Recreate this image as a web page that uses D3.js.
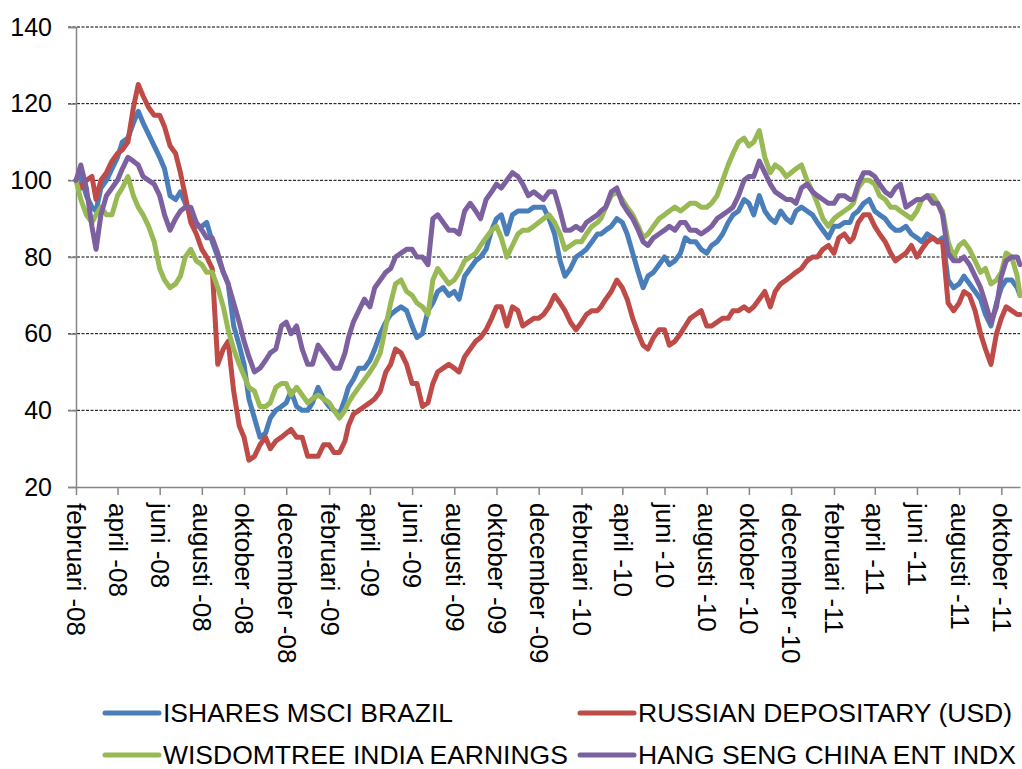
<!DOCTYPE html>
<html>
<head>
<meta charset="utf-8">
<script src="https://cdn.jsdelivr.net/npm/d3@7"></script>
<style>
  body { margin: 0; background: #fff; }
  text { font-family: "Liberation Sans", Arial, sans-serif; fill: #000; }
</style>
</head>
<body>
<div id="chart"></div>
<script>
// sample dates: 1st, 8th, 16th and 24th of each month, Feb 2008 .. Oct 2011, plus last day shown
var startDate = new Date(2008, 1, 1);
var endDate = new Date(2011, 9, 28);
var dates = [];
d3.timeMonth.range(startDate, new Date(2011, 10, 1)).forEach(function(m) {
    [1, 8, 16, 24].forEach(function(day) {
        dates.push(new Date(m.getFullYear(), m.getMonth(), day));
    });
});
dates.push(endDate);

var brazil = [
    100,101, 96,93, 92,98, 100,103, 106,110, 111,115, 118,115, 112,109, 106,103, 96,95,
    97,94, 91,88, 88,89, 84,80, 76,73, 62,57, 52,43, 38,33, 34,38, 40,41,
    42,45, 41,40, 40,42, 46,43, 41,40, 39,43, 46,48, 51,51, 53,56, 60,63,
    65,66, 67,66, 62,59, 60,66, 68,71, 72,70, 71,69, 75,77, 79,80, 82,87,
    90,91, 86,91, 92,92, 92,93, 93,93, 90,86, 79,75, 77,80, 81,82, 84,86,
    86,87, 88,90, 89,86, 81,76, 72,75, 76,78, 80,78, 79,81, 85,84, 84,82,
    81,83, 84,86, 89,91, 92,95, 94,91, 96,92, 90,89, 92,90, 89,92, 93,92,
    91,89, 87,85, 88,88, 89,89, 91,92, 94,95, 92,91, 90,88, 87,87, 88,86,
    85,84, 86,85, 84,85, 74,72, 73,75, 73,71, 69,65, 62,68, 72,74, 74,72,
    70];

var russia = [
    100,98, 100,101, 95,100, 102,105, 107,108, 110,119, 125,122, 119,117, 117,114, 109,107,
    102,96, 89,86, 82,80, 77,52, 56,58, 45,36, 33,27, 28,31, 33,30, 32,33,
    34,35, 33,33, 28,28, 28,31, 31,29, 29,32, 36,39, 40,41, 42,43, 45,50,
    52,56, 55,52, 47,47, 41,42, 47,50, 51,52, 51,50, 54,56, 58,59, 61,64,
    67,67, 62,67, 66,62, 63,64, 64,65, 67,70, 68,66, 63,61, 63,65, 66,66,
    67,69, 71,74, 72,69, 64,60, 57,56, 59,61, 61,57, 58,60, 62,64, 65,66,
    62,62, 63,64, 64,66, 66,67, 66,67, 69,71, 67,71, 73,74, 75,76, 77,79,
    80,80, 82,83, 81,85, 86,84, 85,89, 91,91, 88,86, 84,81, 79,80, 81,83,
    80,82, 84,85, 84,84, 68,66, 68,71, 70,66, 60,56, 52,60, 64,67, 66,65,
    65];

var india = [
    100,95, 91,89, 91,93, 91,91, 96,98, 101,96, 93,91, 88,84, 77,74, 72,73,
    75,80, 82,79, 78,76, 76,72, 67,61, 56,52, 49,46, 45,41, 41,42, 46,47,
    47,44, 46,44, 42,43, 44,43, 42,40, 38,40, 42,44, 46,48, 50,52, 55,62,
    68,73, 74,71, 70,68, 67,65, 74,77, 75,73, 74,76, 79,80, 81,83, 85,87,
    88,85, 80,83, 86,87, 87,88, 89,90, 91,89, 86,82, 83,84, 84,86, 88,89,
    90,93, 96,97, 95,93, 91,88, 85,86, 88,90, 91,92, 93,92, 93,94, 94,93,
    93,94, 96,100, 104,107, 110,111, 109,110, 113,106, 102,104, 103,101, 102,103, 104,100,
    97,94, 90,88, 90,91, 92,93, 94,98, 100,100, 99,96, 95,93, 93,92, 91,90,
    92,95, 96,96, 94,92, 84,80, 83,84, 82,79, 76,77, 73,74, 76,81, 80,75,
    70];

var hangSeng = [
    100,104, 98,88, 82,91, 96,98, 100,103, 106,105, 104,101, 100,99, 96,91, 87,90,
    92,93, 93,89, 87,85, 85,81, 76,73, 68,63, 58,54, 50,51, 53,55, 56,62,
    63,60, 62,56, 52,52, 57,55, 53,51, 51,55, 59,63, 66,69, 67,72, 74,76,
    77,80, 81,82, 82,80, 80,78, 90,91, 89,87, 87,86, 92,94, 92,90, 95,97,
    99,98, 100,102, 101,99, 96,97, 96,95, 97,97, 92,87, 87,88, 87,89, 90,91,
    92,93, 97,98, 94,92, 90,87, 84,83, 85,86, 87,88, 87,89, 89,87, 87,86,
    87,88, 90,91, 92,93, 96,100, 101,101, 105,102, 99,97, 96,95, 95,94, 98,99,
    97,96, 95,94, 94,96, 96,95, 95,99, 102,102, 101,99, 97,96, 98,99, 93,94,
    95,95, 96,94, 94,91, 81,79, 79,80, 78,75, 72,68, 63,67, 75,79, 80,80,
    78];

var seriesNames = ["ISHARES MSCI BRAZIL", "RUSSIAN DEPOSITARY (USD)",
    "WISDOMTREE INDIA EARNINGS", "HANG SENG CHINA ENT INDX"];
var seriesValues = [brazil, russia, india, hangSeng];
var colors = ["#4A7EBB", "#BE4B48", "#98B954", "#7D60A0"];

var yTicks = [20, 40, 60, 80, 100, 120, 140];
var monthNames = ["januari", "februari", "mars", "april", "maj", "juni", "juli",
    "augusti", "september", "oktober", "november", "december"];

var width = 1022, height = 769;
var margin = {top: 27, right: 2, bottom: 282, left: 76};

var svg = d3.select("#chart").append("svg")
    .attr("width", width)
    .attr("height", height);

var x = d3.scaleTime()
    .domain([startDate, endDate])
    .range([margin.left, width - margin.right]);

var y = d3.scaleLinear()
    .domain([20, 140])
    .range([height - margin.bottom, margin.top]);

// gridlines
svg.append("g")
    .selectAll("line")
    .data(yTicks.slice(1))
    .enter()
    .append("line")
    .attr("x1", margin.left - 8)
    .attr("x2", width - margin.right)
    .attr("y1", function(d) { return y(d); })
    .attr("y2", function(d) { return y(d); })
    .attr("stroke", "#000")
    .attr("stroke-width", 1)
    .attr("stroke-dasharray", "3,1.5");

// y axis
var yAxis = svg.append("g")
    .attr("transform", "translate(" + margin.left + ",0)")
    .call(d3.axisLeft(y).tickValues(yTicks).tickSize(8).tickPadding(16));
yAxis.select(".domain").attr("stroke", "#868686").attr("stroke-width", 1.5);
yAxis.selectAll(".tick line").attr("stroke", "#868686").attr("stroke-width", 1.5);
yAxis.selectAll("text")
    .style("font-size", "25px")
    .attr("fill", "#000");

// x axis
var xTicks = d3.timeMonth.range(startDate, endDate, 2);
var xAxis = svg.append("g")
    .attr("transform", "translate(0," + y(20) + ")")
    .call(d3.axisBottom(x).tickValues(xTicks).tickSize(8).tickSizeOuter(0)
        .tickFormat(function(d) {
            return monthNames[d.getMonth()] + " -" + d3.timeFormat("%y")(d);
        }));
xAxis.select(".domain").attr("stroke", "#868686").attr("stroke-width", 1.5);
xAxis.selectAll(".tick line").attr("stroke", "#868686").attr("stroke-width", 1.5);
xAxis.selectAll("text")
    .style("font-size", "26px")
    .attr("fill", "#000")
    .attr("text-anchor", "start")
    .attr("transform", "rotate(90)")
    .attr("x", 16)
    .attr("y", 0)
    .attr("dy", "0.35em");

// lines
var line = d3.line()
    .x(function(d, i) { return x(dates[i]); })
    .y(function(d) { return y(d); });

svg.append("g")
    .selectAll("path")
    .data(seriesValues)
    .enter()
    .append("path")
    .attr("d", line)
    .attr("fill", "none")
    .attr("stroke", function(d, i) { return colors[i]; })
    .attr("stroke-width", 5)
    .attr("stroke-linejoin", "round")
    .attr("stroke-linecap", "round");

// legend
var legendPos = [[105, 713], [580, 713], [105, 755], [580, 755]];
var legend = svg.append("g")
    .selectAll("g")
    .data(seriesNames)
    .enter()
    .append("g")
    .attr("transform", function(d, i) {
        return "translate(" + legendPos[i][0] + "," + legendPos[i][1] + ")";
    });

legend.append("line")
    .attr("x1", 0)
    .attr("x2", 54)
    .attr("stroke", function(d, i) { return colors[i]; })
    .attr("stroke-width", 5)
    .attr("stroke-linecap", "round");

legend.append("text")
    .attr("x", 58)
    .attr("dy", "0.35em")
    .style("font-size", "26.5px")
    .text(function(d) { return d; });
</script>
</body>
</html>
